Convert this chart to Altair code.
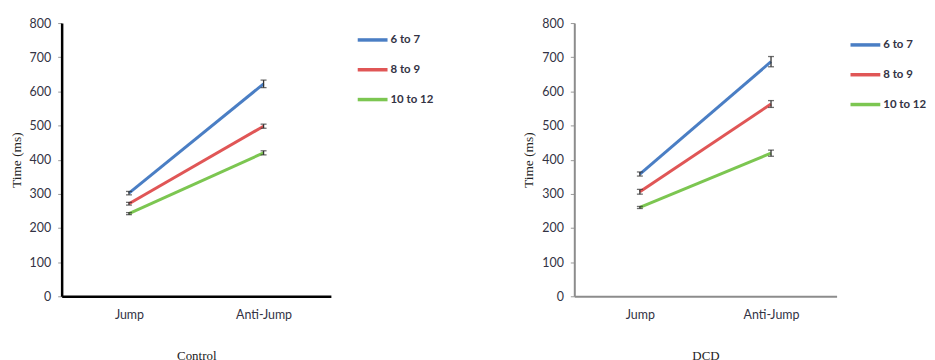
import altair as alt
import pandas as pd

groups = ["6 to 7", "8 to 9", "10 to 12"]
conditions = ["Jump", "Anti-Jump"]
colors = ["#4a7ec4", "#e05656", "#7cc651"]

# Control group means (ms) and error half-widths
control_means = {"6 to 7": [302, 622], "8 to 9": [271, 498], "10 to 12": [242, 420]}
control_err = {"6 to 7": [5, 11], "8 to 9": [4, 6], "10 to 12": [3, 6]}

# DCD group means (ms) and error half-widths
dcd_means = {"6 to 7": [358, 687], "8 to 9": [306, 563], "10 to 12": [260, 419]}
dcd_err = {"6 to 7": [6, 15], "8 to 9": [7, 10], "10 to 12": [3, 9]}

y_ticks = [0, 100, 200, 300, 400, 500, 600, 700, 800]


def make_df(means, errs):
    rows = []
    for g in groups:
        for i, c in enumerate(conditions):
            m = means[g][i]
            e = errs[g][i]
            rows.append({"group": g, "condition": c, "time": m, "lo": m - e, "hi": m + e})
    return pd.DataFrame(rows)


def panel(df, title, legend_x, legend_y, width, height, axis_color, axis_width):
    base = alt.Chart(df)
    x_axis = alt.Axis(
        title=title,
        labelAngle=0,
        ticks=False,
        domainColor=axis_color,
        domainWidth=axis_width,
        labelFont="Lato",
        labelFontSize=12.5,
        labelColor="#333344",
        labelPadding=12,
        titleFont="Liberation Serif",
        titleFontSize=13,
        titleFontWeight="normal",
        titleColor="#222222",
        titlePadding=29,
    )
    y_axis = alt.Axis(
        title="Time (ms)",
        values=y_ticks,
        tickCount=9,
        labelOverlap=False,
        grid=False,
        domainColor=axis_color,
        domainWidth=axis_width,
        tickColor="#999999",
        tickSize=4,
        labelFont="Lato",
        labelFontSize=12.5,
        labelColor="#333344",
        labelPadding=7,
        titleFont="Liberation Serif",
        titleFontSize=13.5,
        titleFontWeight="normal",
        titleColor="#222222",
        titlePadding=6,
    )
    y_scale = alt.Scale(domain=[0, 800], nice=False)
    x_scale = alt.Scale(type="point", padding=0.5)
    line = base.mark_line(strokeWidth=3).encode(
        x=alt.X("condition:N", sort=conditions, scale=x_scale, axis=x_axis),
        y=alt.Y("time:Q", scale=y_scale, axis=y_axis),
        color=alt.Color(
            "group:N",
            sort=groups,
            scale=alt.Scale(domain=groups, range=colors),
            legend=alt.Legend(
                orient="none",
                legendX=legend_x,
                legendY=legend_y,
                title=None,
                symbolType="stroke",
                symbolSize=900,
                symbolStrokeWidth=3.5,
                labelFont="Lato",
                labelFontSize=11.5,
                labelFontWeight="bold",
                labelColor="#333344",
                labelOffset=1,
                rowPadding=6,
                padding=0,
            ),
        ),
    )
    err = base.mark_errorbar(ticks={"size": 6, "color": "#333333", "strokeWidth": 1.3}, color="#333333", thickness=1.3).encode(
        x=alt.X("condition:N", sort=conditions, scale=x_scale, axis=x_axis),
        y=alt.Y("lo:Q", scale=y_scale, axis=y_axis),
        y2="hi:Q",
    )
    return alt.layer(line, err).properties(width=width, height=height)


left = panel(make_df(control_means, control_err), "Control", 296, 0, 271, 275, "#000000", 2.5)
right = panel(make_df(dcd_means, dcd_err), "DCD", 276, 5, 264, 275, "#8c8c8c", 2)

chart = (
    alt.hconcat(left, right, spacing=245, bounds="flush")
    .resolve_scale(color="independent")
    .resolve_legend(color="independent")
    .properties(padding={"left": 1, "top": 8, "right": 0, "bottom": 0})
    .configure_view(stroke=None)
)

chart.save("out.html", embed_options={"renderer": "svg", "actions": False})
